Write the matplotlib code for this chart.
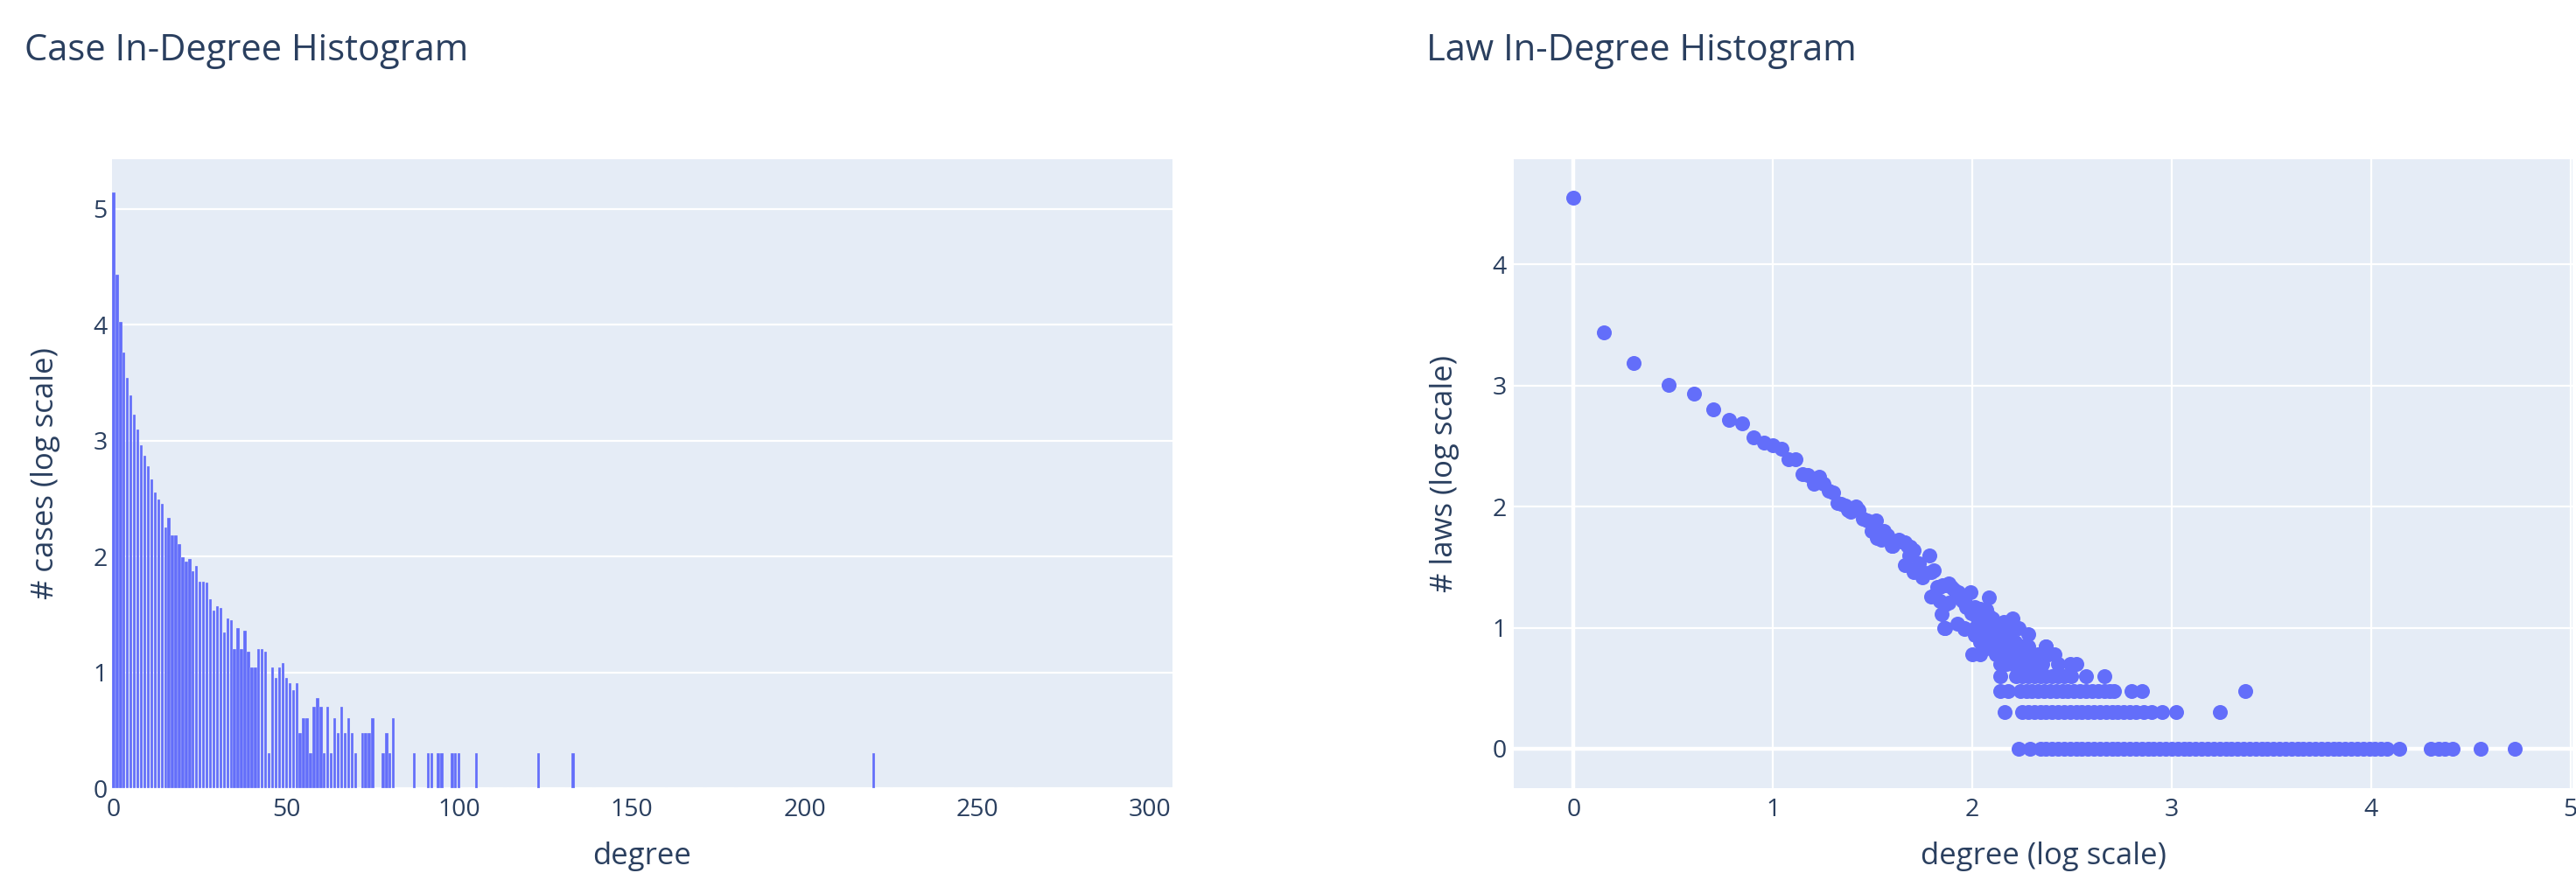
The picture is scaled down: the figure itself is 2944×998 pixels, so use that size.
import numpy as np
import matplotlib
matplotlib.use("Agg")
import matplotlib.pyplot as plt

plt.rcParams['font.family'] = ['Open Sans', 'DejaVu Sans']

BAR_COLOR = '#636EFA'
BG = '#E5ECF6'
TXT = '#2a3f5f'

# ---------------- Case in-degree (bar, log10 count) ----------------
case_degree = list(range(0, 82)) + [87, 91, 92, 94, 95, 98, 99, 100, 105, 123, 133, 220]
case_log_count = [
    5.146, 4.433, 4.025, 3.758, 3.544, 3.393, 3.227, 3.093, 2.960, 2.872,
    2.778, 2.665, 2.552, 2.489, 2.453, 2.254, 2.330, 2.186, 2.179, 2.108,
    1.990, 1.957, 1.977, 1.872, 1.919, 1.783, 1.783, 1.771, 1.633, 1.531,
    1.568, 1.556, 1.342, 1.462, 1.447, 1.204, 1.380, 1.204, 1.362, 1.176,
    1.041, 1.041, 1.204, 1.204, 1.176, 0.301, 1.041, 0.954, 1.041, 1.079,
    0.954, 0.903, 0.845, 0.903, 0.477, 0.602, 0.602, 0.301, 0.699, 0.778,
    0.699, 0.301, 0.699, 0.301, 0.602, 0.477, 0.699, 0.477, 0.602, 0.477,
    0.301, 0.0, 0.477, 0.477, 0.477, 0.602, 0.0, 0.0, 0.301, 0.477,
    0.301, 0.602,
    0.301, 0.301, 0.301, 0.301, 0.301, 0.301, 0.301, 0.301, 0.301, 0.301,
    0.301, 0.301,
]
# degrees that occur exactly once (log10(1) = 0)
case_single_degree = [82, 83, 84, 85, 86, 88, 89, 90, 93, 96, 97, 101, 102,
                      109, 113, 115, 120, 131, 139, 160, 167, 171, 180, 196,
                      225, 261, 306]

# ---------------- Law in-degree (scatter, log10 degree vs log10 count) ----------------
law_head_x = [0.0, 0.15, 0.301, 0.477, 0.602, 0.699, 0.778, 0.845, 0.903, 0.954,
              1.0, 1.041, 1.079, 1.114, 1.146, 1.176, 1.204, 1.230, 1.255, 1.279,
              1.301, 1.322, 1.342, 1.362]
law_head_y = [4.548, 3.44, 3.185, 3.005, 2.935, 2.805, 2.713, 2.684, 2.568, 2.525,
              2.508, 2.477, 2.392, 2.387, 2.270, 2.259, 2.186, 2.247, 2.186, 2.128,
              2.116, 2.030, 2.024, 2.010]

law_cloud_x = [1.376, 1.390, 1.415, 1.427, 1.449, 1.471, 1.493, 1.515, 1.522, 1.544,
               1.558, 1.573, 1.595, 1.602, 1.632, 1.646, 1.661, 1.675, 1.690, 1.697,
               1.683, 1.705, 1.785, 1.661, 1.705, 1.734, 1.749, 1.719, 1.763, 1.792,
               1.807, 1.792, 1.822, 1.836, 1.851, 1.865, 1.880, 1.895, 1.909, 1.931,
               1.953, 1.968, 1.844, 1.865, 1.880, 1.836, 1.807, 1.924, 1.990, 1.946,
               2.082, 2.012, 2.041, 2.070, 2.026, 2.056, 1.968, 1.997, 2.085, 2.099,
               1.865, 1.924, 1.961, 2.012, 2.041, 2.099, 2.129, 2.158, 2.202, 2.231,
               2.282, 2.099, 2.158, 2.187, 2.216, 2.246, 2.275, 2.370, 2.056, 2.077,
               2.114, 2.143, 2.173, 2.187, 2.070, 2.129, 2.041, 2.012, 1.858, 1.958]
law_cloud_y = [1.969, 1.956, 1.998, 1.969, 1.896, 1.884, 1.799, 1.884, 1.738, 1.726,
               1.799, 1.763, 1.678, 1.678, 1.726, 1.714, 1.702, 1.678, 1.666, 1.617,
               1.593, 1.642, 1.593, 1.513, 1.460, 1.533, 1.412, 1.484, 1.448, 1.460,
               1.472, 1.254, 1.339, 1.339, 1.351, 1.351, 1.363, 1.339, 1.315, 1.291,
               1.218, 1.194, 1.109, 1.194, 1.206, 1.218, 1.266, 1.278, 1.295, 1.242,
               1.247, 1.169, 1.157, 1.145, 1.073, 1.036, 1.169, 1.121, 1.097, 1.073,
               1.000, 1.036, 0.988, 0.939, 0.879, 0.976, 1.024, 1.048, 1.077, 1.000,
               0.947, 0.855, 0.903, 0.831, 0.879, 0.831, 0.843, 0.843, 0.952, 0.927,
               0.927, 0.952, 0.976, 0.927, 0.831, 0.855, 1.000, 1.000, 1.000, 0.995]

# log10(degree) positions of high-degree laws that share a small count
law_count7_x = [2.10, 2.13, 2.16, 2.19, 2.22, 2.25, 2.28, 2.37]
law_count6_x = [2.00, 2.04, 2.12, 2.17, 2.20, 2.23, 2.26, 2.29, 2.33, 2.38, 2.41]
law_count5_x = [2.14, 2.17, 2.20, 2.23, 2.26, 2.29, 2.32, 2.35, 2.43, 2.49, 2.52]
law_count4_x = [2.14, 2.22, 2.25, 2.28, 2.31, 2.34, 2.37, 2.40, 2.43, 2.46, 2.495,
                2.57, 2.66]
law_count3_x = [2.14, 2.18, 2.24, 2.27, 2.30, 2.33, 2.36, 2.39, 2.42, 2.45, 2.48,
                2.51, 2.54, 2.57, 2.60, 2.63, 2.66, 2.69, 2.71, 2.80, 2.85, 3.37]
law_count2_x = [2.16, 2.25, 2.28, 2.31, 2.34, 2.37, 2.40, 2.43, 2.46, 2.49, 2.52,
                2.55, 2.58, 2.61, 2.64, 2.67, 2.70, 2.73, 2.76, 2.79, 2.82, 2.86,
                2.90, 2.95, 3.02, 3.24]
law_count1_x = [2.23, 2.29, 2.34, 2.37, 2.40, 2.43, 2.46, 2.49, 2.52, 2.55, 2.58,
                2.61, 2.64, 2.67, 2.70, 2.73, 2.76, 2.79, 2.82, 2.85, 2.88, 2.91,
                2.94, 2.97, 3.00, 3.03, 3.06, 3.09, 3.12, 3.15, 3.18, 3.21, 3.24,
                3.27, 3.30, 3.33, 3.36, 3.39, 3.42, 3.45, 3.48, 3.51, 3.54, 3.57,
                3.60, 3.63, 3.66, 3.69, 3.72, 3.75, 3.78, 3.81, 3.84, 3.87, 3.90,
                3.93, 3.96, 3.99, 4.02, 4.05, 4.08, 4.14, 4.30, 4.34, 4.37, 4.41,
                4.55, 4.72]
law_rows = [(1, law_count1_x), (2, law_count2_x), (3, law_count3_x), (4, law_count4_x),
            (5, law_count5_x), (6, law_count6_x), (7, law_count7_x)]

# ---------------- Figure ----------------
W, H = 2944, 998
fig = plt.figure(figsize=(W / 100, H / 100), dpi=100)
fig.patch.set_facecolor('white')

ax1 = fig.add_axes([128 / W, 1 - 901 / H, (1340 - 128) / W, (901 - 182) / H])
ax2 = fig.add_axes([1730 / W, 1 - 901 / H, (2940 - 1730) / W, (901 - 182) / H])

TICK_FS = 20.5
LABEL_FS = 25
MS = 150

for ax in (ax1, ax2):
    ax.set_facecolor(BG)
    for s in ax.spines.values():
        s.set_visible(False)
    ax.tick_params(length=0, labelsize=TICK_FS, labelcolor=TXT, pad=8)
    ax.set_axisbelow(True)

# Left: bar chart
ax1.bar(case_degree, case_log_count, width=0.85, color=BAR_COLOR,
        edgecolor=BG, linewidth=0.2, zorder=3)
ax1.bar(case_single_degree, [0.0] * len(case_single_degree), width=0.8,
        color=BAR_COLOR, edgecolor='#F4F7FB', linewidth=0.8, zorder=3)
ax1.set_xlim(-0.5, 306.5)
ax1.set_ylim(0, 5.43)
ax1.set_xticks([0, 50, 100, 150, 200, 250, 300])
ax1.set_yticks([0, 1, 2, 3, 4, 5])
ax1.yaxis.grid(True, color='white', linewidth=1.6)
ax1.xaxis.grid(False)
ax1.tick_params(axis='y', pad=4)
ax1.set_xlabel('degree', fontsize=LABEL_FS, color=TXT, labelpad=16)
ax1.set_ylabel('# cases (log scale)', fontsize=LABEL_FS, color=TXT, labelpad=27)

# Right: scatter
ax2.scatter(law_head_x, law_head_y, s=MS, color=BAR_COLOR, linewidths=0, zorder=3)
ax2.scatter(law_cloud_x, law_cloud_y, s=MS, color=BAR_COLOR, linewidths=0, zorder=3)
for cnt, xs in law_rows:
    ax2.scatter(xs, [np.log10(cnt)] * len(xs), s=MS, color=BAR_COLOR,
                linewidths=0, zorder=3)
ax2.set_xlim(-0.30, 5.01)
ax2.set_ylim(-0.325, 4.867)
ax2.set_xticks([0, 1, 2, 3, 4, 5])
ax2.set_yticks([0, 1, 2, 3, 4])
ax2.grid(True, color='white', linewidth=1.6)
ax2.axhline(0, color='white', linewidth=3.2, zorder=1)
ax2.axvline(0, color='white', linewidth=3.2, zorder=1)
ax2.tick_params(axis='y', pad=6)
ax2.set_xlabel('degree (log scale)', fontsize=LABEL_FS, color=TXT, labelpad=16)
ax2.set_ylabel('# laws (log scale)', fontsize=LABEL_FS, color=TXT, labelpad=27)

fig.text(28 / W, 1 - 58 / H, 'Case In-Degree Histogram', fontsize=30,
         color=TXT, ha='left', va='center')
fig.text(1630 / W, 1 - 58 / H, 'Law In-Degree Histogram', fontsize=30,
         color=TXT, ha='left', va='center')

fig.savefig('out.png', dpi=100, facecolor='white')
